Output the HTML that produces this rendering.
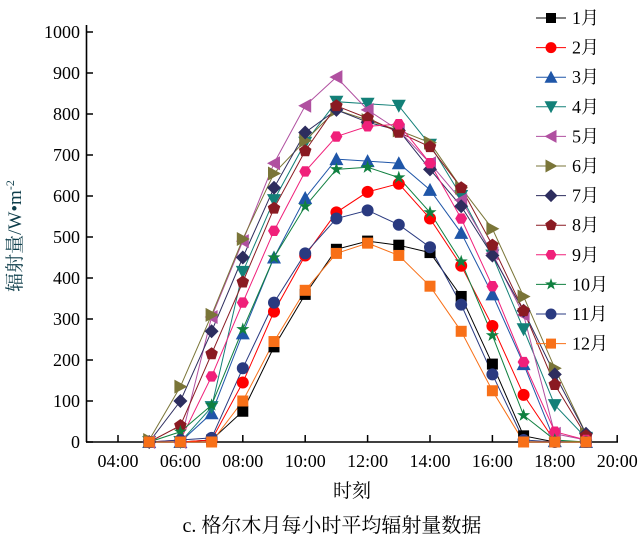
<!DOCTYPE html>
<html><head><meta charset="utf-8"><style>body{margin:0;background:#fff}svg{display:block}</style></head><body>
<svg id="s" width="644" height="542" xmlns="http://www.w3.org/2000/svg" font-family="'Liberation Serif','Noto Serif CJK SC',serif">
<g id="axes" stroke="#000" stroke-width="1.6" fill="none">
<line x1="86.5" y1="25" x2="86.5" y2="442"/>
<line x1="86" y1="442" x2="618" y2="442"/>
</g>
<g id="g"></g>
<text x="21" y="236" transform="rotate(-90 21 236)" text-anchor="middle" font-size="19" fill="#0d3d4a" font-family="'Liberation Serif','Noto Serif CJK SC',serif">辐射量/W•m<tspan dy="-7" font-size="12">-2</tspan></text>
<text x="352" y="497" text-anchor="middle" font-size="19">时刻</text>
<text x="332" y="532" text-anchor="middle" font-size="20">c. 格尔木月每小时平均辐射量数据</text>
</svg>
<script>
const NS="http://www.w3.org/2000/svg",g=document.getElementById('g');
function el(t,a,p){const e=document.createElementNS(NS,t);for(const k in a)e.setAttribute(k,a[k]);(p||g).appendChild(e);return e}
const X=h=>118+(h-4)*31.2,Y=v=>442-v*0.41;
for(let v=0;v<=1000;v+=100){el('line',{x1:86,x2:93,y1:Y(v),y2:Y(v),stroke:'#000','stroke-width':1.5});
const t=el('text',{x:80,y:Y(v)+6,'text-anchor':'end','font-size':18});t.textContent=v;}
for(let h=4;h<=20;h+=2){el('line',{x1:X(h),x2:X(h),y1:442,y2:435,stroke:'#000','stroke-width':1.5});
const t=el('text',{x:X(h),y:467,'text-anchor':'middle','font-size':18});t.textContent=(h<10?'0':'')+h+':00';}
const S=[
['#000','sq',[0,0,5,75,232,360,470,490,480,462,355,190,15,0,0]],
['#f00','ci',[0,0,5,145,318,455,560,610,630,545,430,283,115,2,0]],
['#1f56a8','tu',[0,0,70,265,450,595,690,685,680,615,510,360,190,2,0]],
['#138078','td',[0,0,85,415,590,730,830,825,820,725,600,455,275,90,10]],
['#b050a0','tl',[0,0,305,490,680,820,890,810,760,680,590,460,310,20,5]],
['#7a7538','tr',[5,135,310,495,655,735,810,785,760,730,620,520,355,180,20]],
['#2d2d5e','di',[0,100,270,450,620,755,810,780,760,665,575,455,320,165,20]],
['#8a1a22','pe',[0,40,215,390,570,710,820,790,755,720,620,480,320,140,15]],
['#f0207a','he',[0,5,160,340,515,660,745,770,775,680,545,380,195,25,5]],
['#108040','st',[0,25,90,275,450,575,665,670,645,560,440,260,65,5,0]],
['#2a3a80','ci',[0,5,10,180,340,460,545,565,530,475,335,165,5,0,0]],
['#f87018','sq',[0,0,0,100,245,370,460,485,455,380,270,125,0,0,0]]];
function mk(type,x,y,c,r){r=r||6;let pts;
switch(type){
case 'sq':return el('rect',{x:x-r+0.5,y:y-r+0.5,width:2*r-1,height:2*r-1,fill:c});
case 'ci':return el('circle',{cx:x,cy:y,r:r,fill:c});
case 'tu':pts=[[0,-r-1],[r+1,r],[-r-1,r]];break;
case 'td':pts=[[0,r+1],[r+1,-r],[-r-1,-r]];break;
case 'tl':pts=[[-r-1,0],[r,-r-1],[r,r+1]];break;
case 'tr':pts=[[r+1,0],[-r,-r-1],[-r,r+1]];break;
case 'di':pts=[[0,-r-1],[r+1,0],[0,r+1],[-r-1,0]];break;
case 'pe':pts=[];for(let i=0;i<5;i++){const a=-Math.PI/2+i*2*Math.PI/5;pts.push([r*1.1*Math.cos(a),r*1.1*Math.sin(a)])}break;
case 'he':pts=[];for(let i=0;i<6;i++){const a=i*Math.PI/3;pts.push([r*Math.cos(a),r*Math.sin(a)])}break;
case 'st':pts=[];for(let i=0;i<10;i++){const a=-Math.PI/2+i*Math.PI/5,rr=i%2?r*0.45:r*1.15;pts.push([rr*Math.cos(a),rr*Math.sin(a)])}break;}
return el('polygon',{points:pts.map(p=>(x+p[0])+','+(y+p[1])).join(' '),fill:c});}
S.forEach(s=>{el('polyline',{points:s[2].map((v,i)=>X(5+i)+','+Y(v)).join(' '),fill:'none',stroke:s[0],'stroke-width':1});});
S.forEach(s=>{s[2].forEach((v,i)=>mk(s[1],X(5+i),Y(v),s[0]));});
S.forEach((s,i)=>{const y=18+i*29.6;el('line',{x1:536,x2:566,y1:y,y2:y,stroke:s[0],'stroke-width':1});mk(s[1],551,y,s[0],5.5);
const t=el('text',{x:572,y:y+6,'font-size':18});t.textContent=(i+1)+'月';});
</script>
</body></html>
